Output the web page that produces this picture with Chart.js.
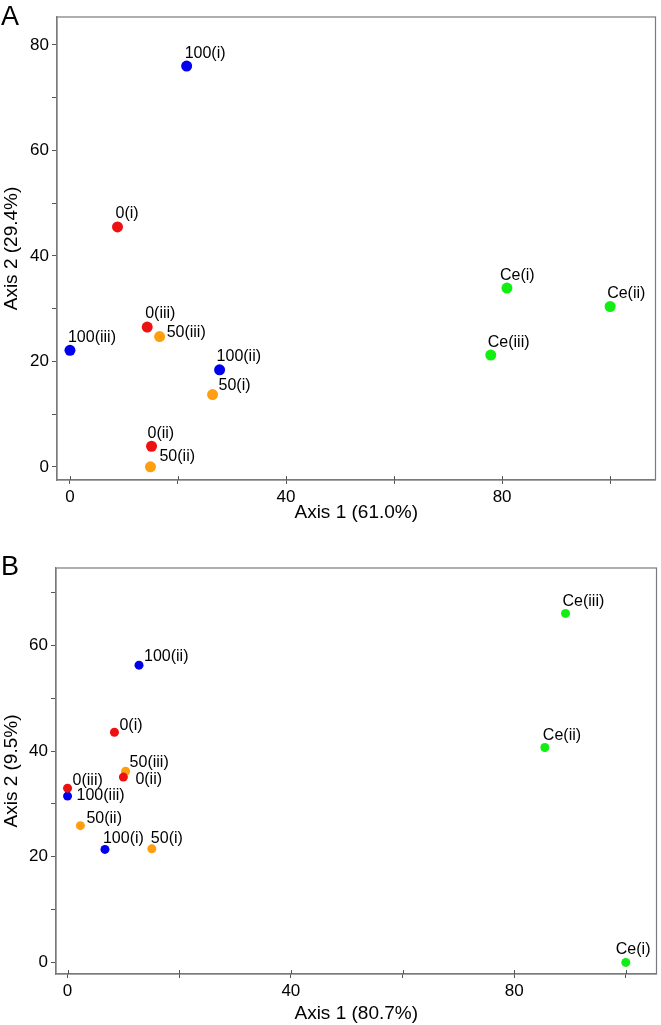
<!DOCTYPE html>
<html>
<head>
<meta charset="utf-8">
<script src="https://cdn.jsdelivr.net/npm/chart.js@4"></script>
<style>
  body { margin: 0; background: #fff; }
  canvas { display: block; }
</style>
</head>
<body>
<canvas id="chartA" width="661" height="522"></canvas>
<canvas id="chartB" width="661" height="503"></canvas>
<script>
// sample names, same order in both panels
var names = ['0(i)','0(ii)','0(iii)','50(i)','50(ii)','50(iii)','100(i)','100(ii)','100(iii)','Ce(i)','Ce(ii)','Ce(iii)'];
var groups = ['0','0','0','50','50','50','100','100','100','Ce','Ce','Ce'];
var groupColors = {'0': '#ee1111', '50': '#ff9f10', '100': '#0000ee', 'Ce': '#11ee11'};

// panel A
var axis1A = [8.8, 15.1, 14.3, 26.4, 14.9, 16.6, 21.6, 27.7, 0, 80.9, 100, 77.9];
var axis2A = [45.5, 3.9, 26.5, 13.7, 0, 24.7, 76.0, 18.4, 22.1, 33.9, 30.4, 21.2];
// panel B
var axis1B = [8.4, 10.0, 0, 15.1, 2.3, 10.4, 6.7, 12.8, 0, 100, 85.5, 89.2];
var axis2B = [43.6, 35.1, 33.0, 21.5, 25.9, 36.2, 21.4, 56.3, 31.5, 0, 40.7, 66.1];

var xTitleA = 'Axis 1 (61.0%)', yTitleA = 'Axis 2 (29.4%)';
var xTitleB = 'Axis 1 (80.7%)', yTitleB = 'Axis 2 (9.5%)';

// label placement relative to the dot (text left, text middle)
var labelOffA = [[-2,-13],[-4,-13],[-2,-13],[6,-9],[9,-10],[7,-4],[-2,-12],[-3,-13],[-2,-13],[-7,-12],[-3,-13],[-3,-12.5]];
var labelOffB = [[5,-7],[12,3],[5,-8],[-1,-10],[6,-7],[4,-9],[-2,-11],[5,-9],[9,0],[-10,-13],[-2,-12],[-3,-12]];

var FONT = "'Liberation Sans', Arial, Helvetica, sans-serif";

function buildDatasets(xs, ys, radius) {
  var order = ['0', '50', '100', 'Ce'];
  return order.map(function (g) {
    var pts = [];
    for (var i = 0; i < names.length; i++) {
      if (groups[i] === g) pts.push({x: xs[i], y: ys[i], name: names[i], idx: i});
    }
    return {
      label: g,
      data: pts,
      backgroundColor: groupColors[g],
      borderWidth: 0,
      pointRadius: radius,
      pointHoverRadius: radius
    };
  });
}

function panelPlugin(letter, letterY, offsets) {
  return {
    id: 'panel' + letter,
    afterDraw: function (chart) {
      var ctx = chart.ctx, a = chart.chartArea;
      ctx.save();
      // frame round the plot
      ctx.strokeStyle = '#7a7a7a';
      ctx.lineWidth = 1.2;
      ctx.strokeRect(a.left, a.top, a.right - a.left, a.bottom - a.top);
      // x ticks cross the axis
      var xs = chart.scales.x;
      ctx.strokeStyle = '#555';
      ctx.lineWidth = 1;
      xs.ticks.forEach(function (t) {
        var px = Math.round(xs.getPixelForValue(t.value)) + 0.5;
        ctx.beginPath();
        ctx.moveTo(px, a.bottom - 4);
        ctx.lineTo(px, a.bottom);
        ctx.stroke();
      });
      // point labels
      ctx.fillStyle = '#000';
      ctx.font = '16px ' + FONT;
      ctx.textBaseline = 'middle';
      ctx.textAlign = 'left';
      chart.data.datasets.forEach(function (ds, di) {
        var meta = chart.getDatasetMeta(di);
        meta.data.forEach(function (el, k) {
          var p = ds.data[k];
          var off = offsets[p.idx];
          ctx.fillText(p.name, el.x + off[0], el.y + off[1]);
        });
      });
      // panel letter
      ctx.font = '27px ' + FONT;
      ctx.textBaseline = 'alphabetic';
      ctx.fillText(letter, 1, letterY);
      ctx.restore();
    }
  };
}

function makeConfig(opt) {
  return {
    type: 'scatter',
    data: { datasets: buildDatasets(opt.xs, opt.ys, opt.radius) },
    options: {
      responsive: false,
      animation: false,
      events: [],
      layout: { padding: { top: opt.top, right: opt.right, left: 0, bottom: 0 } },
      plugins: { legend: { display: false }, tooltip: { enabled: false } },
      scales: {
        x: {
          type: 'linear',
          min: opt.xmin, max: opt.xmax,
          afterFit: function (s) { s.height = opt.xh; },
          border: { display: true, color: '#7a7a7a', width: 1.2 },
          grid: { drawOnChartArea: false, drawTicks: true, tickLength: 4, color: '#555' },
          ticks: {
            stepSize: 20, includeBounds: false, autoSkip: false, maxRotation: 0,
            padding: 3, color: '#000', font: { size: 17, family: FONT },
            callback: function (v) { return v % 40 === 0 ? String(v) : ''; }
          },
          title: {
            display: true, text: opt.xTitle, color: '#000',
            font: { size: 19, family: FONT, lineHeight: 1 },
            padding: { top: 0, bottom: opt.xtPad }
          }
        },
        y: {
          type: 'linear',
          min: opt.ymin, max: opt.ymax,
          afterFit: function (s) { s.width = opt.yw; },
          border: { display: true, color: '#7a7a7a', width: 1.2 },
          grid: { drawOnChartArea: false, drawTicks: true, tickLength: 5, color: '#555' },
          ticks: {
            stepSize: 10, includeBounds: false, autoSkip: false,
            padding: 3, color: '#000', font: { size: 17, family: FONT },
            callback: function (v) { return v % 20 === 0 ? String(v) : ''; }
          },
          title: {
            display: true, text: opt.yTitle, color: '#000',
            font: { size: 19, family: FONT, lineHeight: 1 },
            padding: { top: 2, bottom: 0 }
          }
        }
      }
    },
    plugins: [panelPlugin(opt.letter, opt.letterY, opt.offsets)]
  };
}

new Chart(document.getElementById('chartA'), makeConfig({
  xs: axis1A, ys: axis2A, radius: 5.5,
  xmin: -2.4, xmax: 108.4, ymin: -2.5, ymax: 85.3,
  top: 17, right: 3, xh: 42, yw: 57, xtPad: 0,
  xTitle: xTitleA, yTitle: yTitleA,
  letter: 'A', letterY: 25, offsets: labelOffA
}));

new Chart(document.getElementById('chartB'), makeConfig({
  xs: axis1B, ys: axis2B, radius: 4.5,
  xmin: -2.07, xmax: 105.5, ymin: -2.2, ymax: 74.7,
  top: 46, right: 2, xh: 51, yw: 56, xtPad: 2,
  xTitle: xTitleB, yTitle: yTitleB,
  letter: 'B', letterY: 53, offsets: labelOffB
}));
</script>
</body>
</html>
